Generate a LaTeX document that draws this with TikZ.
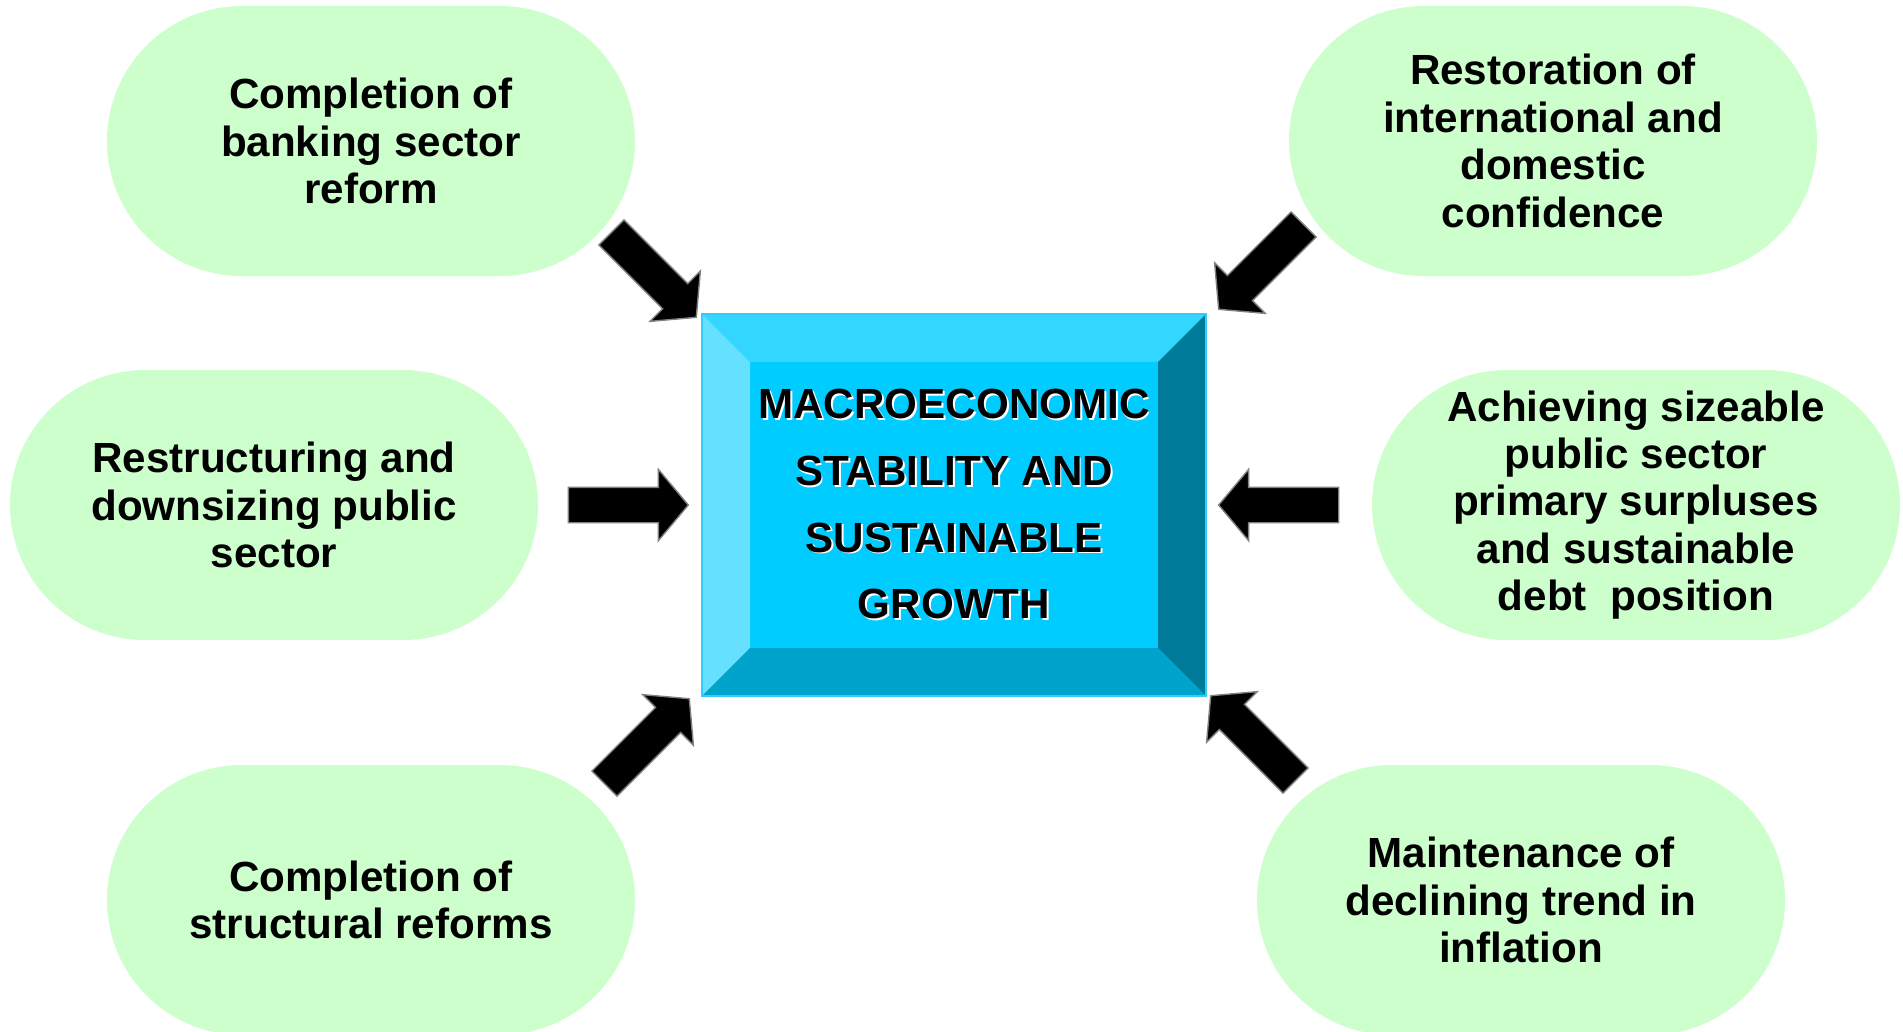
\documentclass[tikz,border=0pt]{standalone}
\usepackage{fontspec}
\setmainfont{Liberation Sans}
\usetikzlibrary{shapes.arrows,positioning}

\definecolor{leafgreen}{HTML}{CCFFCC}
\definecolor{bevelmid}{HTML}{00CCFF}
\definecolor{beveltop}{HTML}{33D6FF}
\definecolor{bevelleft}{HTML}{66E0FF}
\definecolor{bevelright}{HTML}{007A99}
\definecolor{bevelbottom}{HTML}{00A3CC}
\definecolor{beveledge}{HTML}{33CCFF}

\newcommand{\raisedword}[1]{\makebox[0pt][l]{\kern0.18mm\raisebox{-0.18mm}{\color{white}#1}}#1}

\begin{document}
\begin{tikzpicture}[x=0.1mm, y=-0.1mm]
    % Setup the styles for the boxes and the arrows
    \tikzset{
      factor/.style={
        rectangle, rounded corners=13.5mm,
        minimum width=52.8mm, minimum height=27mm,
        fill=leafgreen, align=center, inner sep=0pt,
        font=\bfseries\fontsize{12}{13.5}\selectfont},
      goal box/.style={
        rectangle, minimum width=50.4mm, minimum height=38.2mm,
        fill=bevelmid, draw=beveledge, line width=0.4pt,
        align=center, inner sep=0pt,
        font=\bfseries\fontsize{12}{19}\selectfont,
        path picture={
          \coordinate (nw) at (path picture bounding box.north west);
          \coordinate (ne) at (path picture bounding box.north east);
          \coordinate (sw) at (path picture bounding box.south west);
          \coordinate (se) at (path picture bounding box.south east);
          \fill[beveltop] (nw) -- (ne) -- ([shift={(-4.8mm,-4.8mm)}]ne)
            -- ([shift={(4.8mm,-4.8mm)}]nw) -- cycle;
          \fill[bevelleft] (nw) -- ([shift={(4.8mm,-4.8mm)}]nw)
            -- ([shift={(4.8mm,4.8mm)}]sw) -- (sw) -- cycle;
          \fill[bevelright] (ne) -- (se) -- ([shift={(-4.8mm,4.8mm)}]se)
            -- ([shift={(-4.8mm,-4.8mm)}]ne) -- cycle;
          \fill[bevelbottom] (sw) -- ([shift={(4.8mm,4.8mm)}]sw)
            -- ([shift={(-4.8mm,4.8mm)}]se) -- (se) -- cycle;
        }},
      fat arrow/.style={
        single arrow, fill=black, draw=gray, line width=0.4pt,
        minimum height=12mm, inner xsep=0pt, inner ysep=1.7mm, outer sep=0pt,
        single arrow head extend=1.8mm, single arrow tip angle=100,
        anchor=tip}}
    \useasboundingbox (0,0) rectangle (1903,1031);

    % Draw the goal in the middle
    \node[goal box] at (954,505) (core)
      {\raisedword{MACROECONOMIC}\\ \raisedword{STABILITY AND}\\
       \raisedword{SUSTAINABLE}\\ \raisedword{GROWTH}};

    % Draw the factors round it
    \node[factor] at (371,141)  (banking)    {Completion of\\banking sector\\reform};
    \node[factor] at (1553,141) (confidence) {Restoration of\\international and\\domestic\\confidence};
    \node[factor] at (274,505)  (publicsec)  {Restructuring and\\downsizing public\\sector};
    \node[factor] at (1636,505) (surplus)    {Achieving sizeable\\public sector\\primary surpluses\\and sustainable\\debt\ \ position};
    \node[factor] at (371,900)  (structural) {Completion of\\structural reforms};
    \node[factor] at (1521,900) (inflation)  {Maintenance of\\declining trend in\\inflation};

    % Point the arrows at the goal
    \node[fat arrow, rotate=-45]  at ([shift={(-5,4)}]core.north west)  (to-banking)    {};
    \node[fat arrow]              at ([shift={(-13,0)}]core.west)      (to-publicsec)  {};
    \node[fat arrow, rotate=45]   at ([shift={(-12,2)}]core.south west) (to-structural) {};
    \node[fat arrow, rotate=-135] at ([shift={(12,-4)}]core.north east) (to-confidence) {};
    \node[fat arrow, rotate=180]  at ([shift={(12,0)}]core.east)       (to-surplus)    {};
    \node[fat arrow, rotate=135]  at ([shift={(4,-1)}]core.south east)  (to-inflation)  {};
\end{tikzpicture}
\end{document}
